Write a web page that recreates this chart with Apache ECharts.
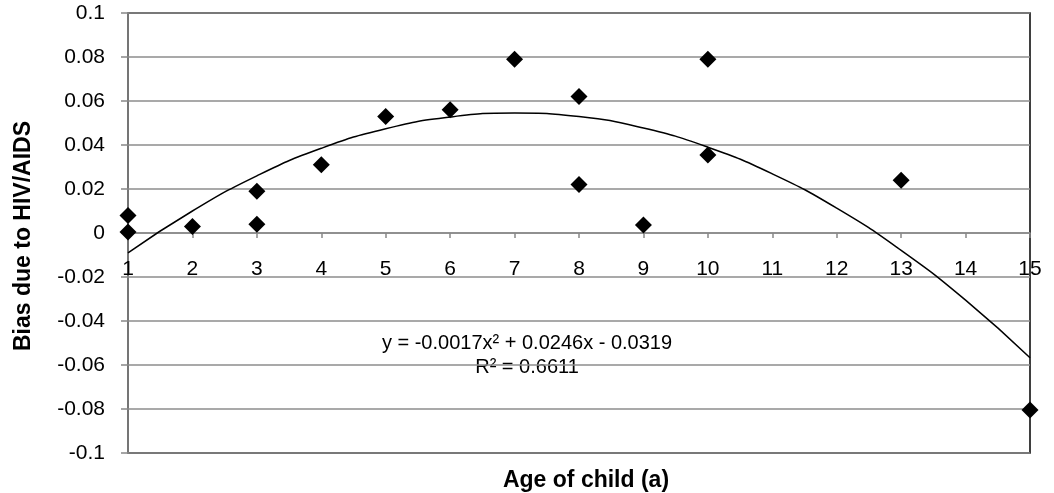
<!DOCTYPE html>
<html>
<head>
<meta charset="utf-8">
<script src="https://cdn.jsdelivr.net/npm/echarts@6/dist/echarts.min.js"></script>
<style>
html,body{margin:0;padding:0;background:#fff;}
#chart{width:1054px;height:493px;}
</style>
</head>
<body>
<div id="chart"></div>
<script>
// Observed points (age of child, bias)
const ages = [1, 1, 2, 3, 3, 4, 5, 6, 7, 8, 8, 9, 10, 10, 13, 15];
const bias = [0.008, 0.0005, 0.003, 0.019, 0.004, 0.031, 0.053, 0.056, 0.079, 0.062, 0.022, 0.0036, 0.079, 0.0355, 0.024, -0.0805];
// Trendline values at each integer age
const trendX = [1, 2, 3, 4, 5, 6, 7, 8, 9, 10, 11, 12, 13, 14, 15];
const trendY = [-0.009, 0.010, 0.026, 0.0385, 0.0474, 0.0527, 0.0545, 0.0529, 0.0477, 0.039, 0.0269, 0.0113, -0.0079, -0.0305, -0.0567];
const yTicks = [-0.1, -0.08, -0.06, -0.04, -0.02, 0, 0.02, 0.04, 0.06, 0.08, 0.1];
const eqText = 'y = -0.0017x² + 0.0246x - 0.0319';
const r2Text = 'R² = 0.6611';
const xTitle = 'Age of child (a)';
const yTitle = 'Bias due to HIV/AIDS';

const FONT = '"Liberation Sans", Arial, sans-serif';
const GRID_TOP = 13, GRID_BOTTOM = 40;
const GRID_H = 493 - GRID_TOP - GRID_BOTTOM;
const chart = echarts.init(document.getElementById('chart'), null, {renderer: 'canvas'});
chart.setOption({
  animation: false,
  backgroundColor: '#fff',
  grid: {left: 128, right: 24, top: GRID_TOP, bottom: GRID_BOTTOM, show: true, borderColor: '#000', borderWidth: 1.5, backgroundColor: 'transparent'},
  xAxis: {
    type: 'value', min: 1, max: 15, interval: 1,
    offset: -GRID_H / 2,
    axisLine: {onZero: false, lineStyle: {color: '#888', width: 1.5}},
    axisTick: {show: true, inside: false, length: 5, lineStyle: {color: '#888', width: 1.5}},
    axisLabel: {color: '#000', fontSize: 21, fontFamily: FONT, margin: 26},
    splitLine: {show: false}
  },
  yAxis: {
    type: 'value', min: yTicks[0], max: yTicks[yTicks.length - 1], interval: 0.02,
    axisLine: {show: true, lineStyle: {color: '#888', width: 1.5}},
    axisTick: {show: true, length: 7, lineStyle: {color: '#888', width: 1.5}},
    axisLabel: {color: '#000', fontSize: 21, fontFamily: FONT, margin: 23,
      formatter: v => String(parseFloat(v.toFixed(2)))},
    splitLine: {show: true, lineStyle: {color: '#8c8c8c', width: 1.5}}
  },
  series: [
    {
      type: 'line', data: trendX.map((x, i) => [x, trendY[i]]), smooth: true,
      showSymbol: false, symbol: 'none', lineStyle: {color: '#000', width: 1.5}, z: 3, silent: true
    },
    {
      type: 'scatter', data: ages.map((x, i) => [x, bias[i]]), symbol: 'diamond', symbolSize: 17,
      itemStyle: {color: '#000', opacity: 1}, z: 4
    }
  ],
  graphic: [
    {type: 'text', x: 527, y: 343, style: {text: eqText, fill: '#000', font: '20px ' + FONT, textAlign: 'center', textVerticalAlign: 'middle'}},
    {type: 'text', x: 527, y: 367, style: {text: r2Text, fill: '#000', font: '20px ' + FONT, textAlign: 'center', textVerticalAlign: 'middle'}},
    {type: 'text', x: 586, y: 481, style: {text: xTitle, fill: '#000', font: 'bold 23px ' + FONT, textAlign: 'center', textVerticalAlign: 'middle'}},
    {type: 'text', x: 24, y: 236, rotation: Math.PI / 2, style: {text: yTitle, fill: '#000', font: 'bold 23px ' + FONT, textAlign: 'center', textVerticalAlign: 'middle'}}
  ]
});
</script>
</body>
</html>
